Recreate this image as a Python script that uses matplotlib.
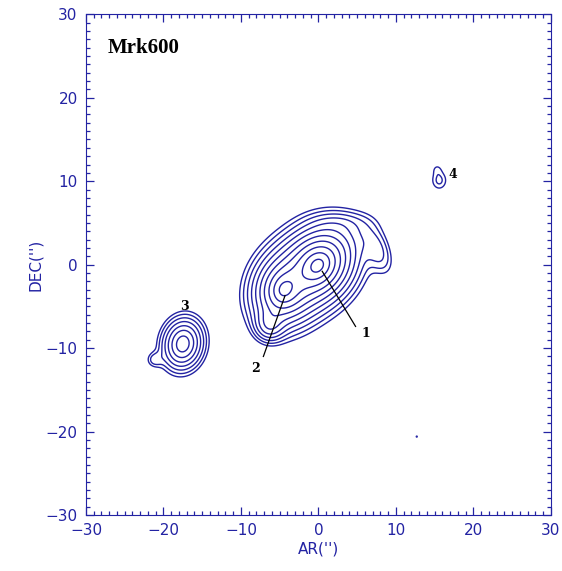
import numpy as np
import matplotlib
matplotlib.use("Agg")
import matplotlib.pyplot as plt

# Flux components (arcsec, arbitrary units)
# core 1, core 2, SW lobe, halo, NE plateau, top ridge, source 3, its bump, source 4, its tip, dot
comp_x = [-0.1, -4.4, -6.3, 3.0, 7.7, 3.0, -17.5, -21.2, 15.6, 15.3, 12.7]
comp_y = [-0.1, -3.0, -7.2, 3.0, 1.6, 5.0, -9.5, -11.4, 10.1, 11.5, -20.6]
comp_amp = [52.0, 33.0, 4.5, 1.1, 2.0, 1.0, 12.5, 1.4, 1.6, 0.7, 1.1]
comp_sx = [2.4, 2.2, 1.6, 4.5, 1.5, 3.5, 1.8, 1.0, 1.2, 0.7, 0.21]
comp_sy = [1.95, 1.9, 1.6, 2.5, 2.8, 1.2, 2.15, 0.9, 1.34, 0.7, 0.21]
comp_theta = [40, 60, 0, 20, 25, 0, -15, 0, 0, 0, 0]
comp_power = [1.2, 1.2, 2, 2, 2, 2, 1.5, 2, 2, 2, 2]

levels = [1.45 ** k for k in range(12)]

labels = ["1", "2", "3", "4"]
label_x = [6.1, -8.1, -17.3, 17.4]
label_y = [-8.3, -12.4, -5.0, 10.8]
pointer_start = [(0.5, -0.8), (-4.3, -3.7)]
pointer_end = [(4.8, -7.4), (-7.1, -11.0)]

blue = "#2323a3"

g = np.arange(-30, 30.001, 0.05)
X, Y = np.meshgrid(g, g)
Z = np.zeros_like(X)
for x0, y0, a, sx, sy, th, p in zip(comp_x, comp_y, comp_amp, comp_sx,
                                     comp_sy, comp_theta, comp_power):
    t = np.deg2rad(th)
    dx, dy = X - x0, Y - y0
    u = dx * np.cos(t) + dy * np.sin(t)
    v = -dx * np.sin(t) + dy * np.cos(t)
    rho = np.sqrt((u / sx) ** 2 + (v / sy) ** 2)
    Z += a * np.exp(-rho ** p)

fig = plt.figure(figsize=(5.62, 5.71), dpi=100)
ax = fig.add_axes([0.153, 0.098, 0.827, 0.877])
ax.contour(X, Y, Z, levels=levels, colors=blue, linewidths=1.0)

for (xs, ys), (xe, ye) in zip(pointer_start, pointer_end):
    ax.plot([xs, xe], [ys, ye], color="black", lw=0.9)
for t, x, y in zip(labels, label_x, label_y):
    ax.text(x, y, t, fontsize=9, fontweight="bold", family="DejaVu Serif",
            ha="center", va="center")

ax.text(-27.2, 26.0, "Mrk600", fontsize=15, fontweight="bold",
        family="Liberation Serif", va="center", ha="left")

ax.set_xlim(-30, 30)
ax.set_ylim(-30, 30)
ax.set_xticks(np.arange(-30, 31, 10))
ax.set_yticks(np.arange(-30, 31, 10))
ax.set_xticks(np.arange(-30, 31, 1), minor=True)
ax.set_yticks(np.arange(-30, 31, 1), minor=True)
fmt = matplotlib.ticker.FuncFormatter(lambda v, p: f"{v:.0f}".replace("-", "\u2212"))
ax.xaxis.set_major_formatter(fmt)
ax.yaxis.set_major_formatter(fmt)
ax.tick_params(which="both", direction="in", top=True, right=True, colors=blue,
               labelcolor=blue, labelsize=11, width=0.9)
ax.tick_params(which="major", length=6, pad=6)
ax.tick_params(which="minor", length=3)
for s in ax.spines.values():
    s.set_color(blue)
ax.set_xlabel("AR('')", color=blue, fontsize=11, labelpad=2)
ax.set_ylabel("DEC('')", color=blue, fontsize=11, labelpad=2)

fig.savefig("out.png", dpi=100)
